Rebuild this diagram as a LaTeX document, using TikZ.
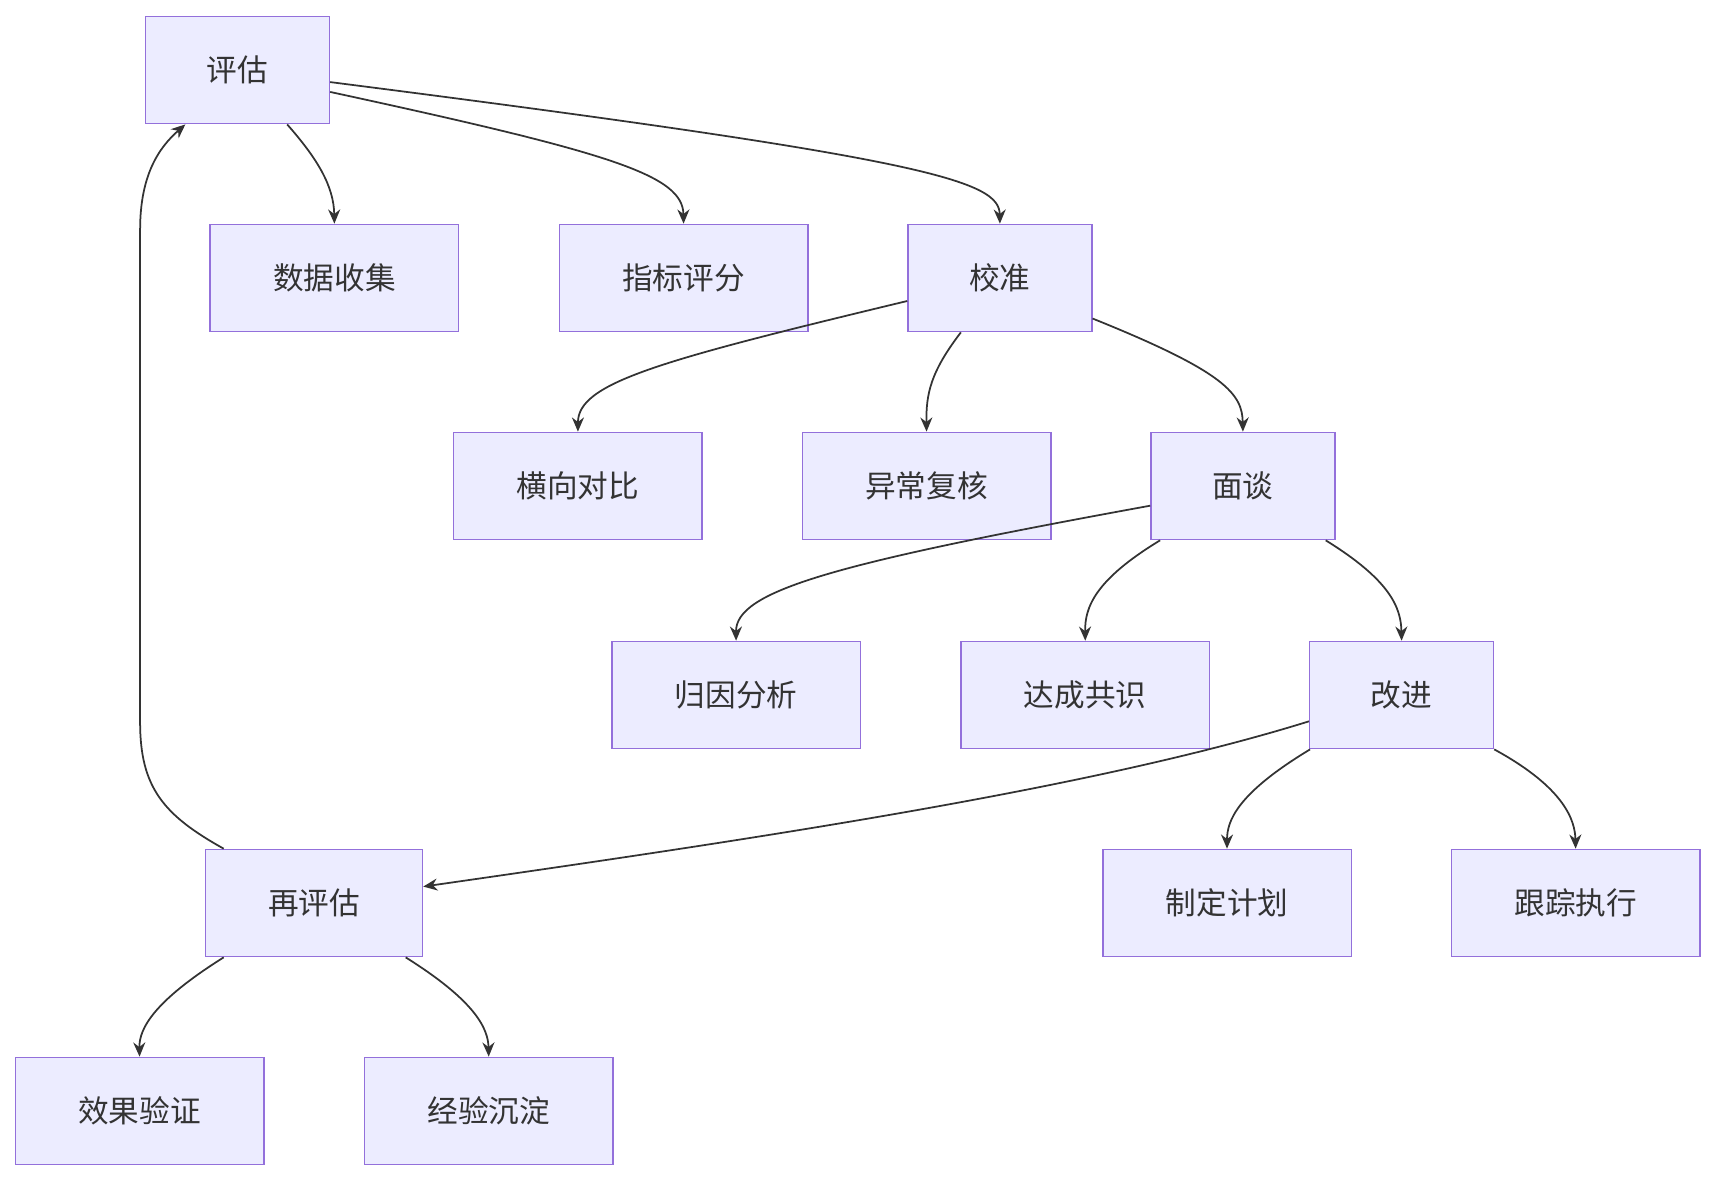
\documentclass[tikz,border=0pt]{standalone}
\usepackage{fontspec}
\setmainfont{Noto Sans CJK SC}
\usetikzlibrary{arrows.meta,calc}
\definecolor{nf}{HTML}{ECECFF}
\definecolor{nd}{HTML}{9370DB}
\definecolor{ln}{HTML}{333333}
\begin{document}
\begin{tikzpicture}[x=1pt,y=-1pt,
 box/.style={draw=nd,fill=nf,line width=1.3pt,minimum height=98pt,inner sep=0pt,font=\fontsize{28}{34}\selectfont,text=ln},
 w1/.style={box,minimum width=168pt},
 w2/.style={box,minimum width=227pt},
 e/.style={draw=ln,line width=1.6pt,-{Stealth[length=13pt,width=11pt]}}]
\useasboundingbox (0,0) rectangle (1565,1078);
\node[w1] (pg) at (217,64) {评估};
\node[w2] (sj) at (305.5,254) {数据收集};
\node[w2] (zb) at (624.5,254) {指标评分};
\node[w1] (jz) at (913.5,254) {校准};
\node[w2] (hx) at (528,444) {横向对比};
\node[w2] (yc) at (846.5,444) {异常复核};
\node[w1] (mt) at (1135.5,444) {面谈};
\node[w2] (gy) at (672.5,635) {归因分析};
\node[w2] (dc) at (991.5,635) {达成共识};
\node[w1] (gj) at (1280.5,635) {改进};
\node[box,minimum width=198pt] (zp) at (287,825) {再评估};
\node[w2] (zd) at (1121,825) {制定计划};
\node[w2] (gz) at (1439.5,825) {跟踪执行};
\node[w2] (xg) at (127.5,1015) {效果验证};
\node[w2] (jy) at (446.5,1015) {经验沉淀};
\begin{scope}[on background layer/.style={}]
\draw[e] ($(pg.south west)+(130,0)$) .. controls (290,145) and (305,170) .. (sj.north);
\draw[e] ($(pg.east)+(0,20)$) .. controls (560,140) and (624,160) .. (zb.north);
\draw[e] ($(pg.east)+(0,11)$) .. controls (850,145) and (913,165) .. (jz.north);
\draw[e] ($(jz.west)+(0,21)$) .. controls (600,330) and (528,350) .. (hx.north);
\draw[e] ($(jz.south west)+(49,0)$) .. controls (850,340) and (846,360) .. (yc.north);
\draw[e] ($(jz.east)+(0,37)$) .. controls (1120,340) and (1135,360) .. (mt.north);
\draw[e] ($(mt.west)+(0,18)$) .. controls (760,515) and (672,540) .. (gy.north);
\draw[e] ($(mt.south west)+(9,0)$) .. controls (1000,530) and (991,555) .. (dc.north);
\draw[e] ($(mt.south east)+(-9,0)$) .. controls (1270,530) and (1280,555) .. (gj.north);
\draw[e] ($(gj.west)+(0,24)$) .. controls (1000,720) and (700,765) .. ($(zp.east)+(0,-15)$);
\draw[e] ($(gj.south west)+(1,0)$) .. controls (1130,725) and (1121,750) .. (zd.north);
\draw[e] ($(gj.south east)+(0,0)$) .. controls (1430,720) and (1439,750) .. (gz.north);
\draw[e] ($(zp.north west)+(17,0)$) .. controls (150,745) and (128,720) .. (128,660) -- (128,210) .. controls (128,160) and (145,135) .. ($(pg.south west)+(37,0)$);
\draw[e] ($(zp.south west)+(17,0)$) .. controls (140,915) and (127,940) .. (xg.north);
\draw[e] ($(zp.south east)+(-16,0)$) .. controls (435,915) and (446,940) .. (jy.north);
\end{scope}
\end{tikzpicture}
\end{document}
